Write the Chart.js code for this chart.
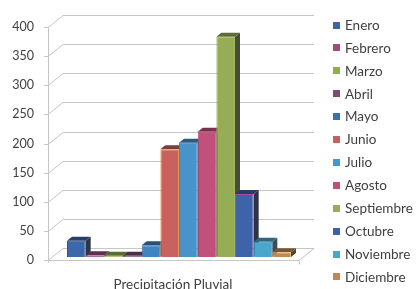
<!DOCTYPE html>
<html><head><meta charset="utf-8">
<script src="https://cdn.jsdelivr.net/npm/chart.js@4/dist/chart.umd.min.js"></script>
<style>html,body{margin:0;padding:0;background:#fff;}#wrap{width:418px;height:289px;position:relative;}</style>
</head><body><div id="wrap"><canvas id="c"></canvas></div>
<script>
const categories = ['Precipitación Pluvial'];
const months = ['Enero','Febrero','Marzo','Abril','Mayo','Junio','Julio','Agosto','Septiembre','Octubre','Noviembre','Diciembre'];
const values = [28, 3, 2, 2, 20, 185, 196, 215, 378, 108, 26, 8];
const yTicks = [0, 50, 100, 150, 200, 250, 300, 350, 400];
const fillColors = ['#3C68AA','#9B4A80','#8AB34A','#7B4A72','#3F85C2','#C9625E','#4893CA','#C1507A','#97AC55','#3D63A8','#4BA6CE','#C08A52'];
const borderColors = ['#2F5590','#C8508A','#9CC060','#8A5080','#3570B0','#E89A50','#3F85BD','#B04A78','#A2B860','#A848A0','#3F96C0','#E8B868'];
const legendColors = ['#3A66A8','#9C4C7E','#8DB04A','#7E4B73','#3A6FB0','#C96060','#3E9AD0','#C24F7A','#98AD55','#3D62A5','#4AA5CF','#C08850'];

function shade(hex, f) {
  const n = parseInt(hex.slice(1), 16);
  const r = (n >> 16) & 255, g = (n >> 8) & 255, b = n & 255;
  const m = v => Math.round(v * f);
  return 'rgb(' + m(r) + ',' + m(g) + ',' + m(b) + ')';
}
function sideShade(hex) {
  const n = parseInt(hex.slice(1), 16);
  const r = (n >> 16) & 255, g = (n >> 8) & 255, b = n & 255;
  const gray = (r + g + b) / 3;
  const m = v => Math.round((v * 0.45 + gray * 0.55) * 0.5);
  return 'rgb(' + m(r) + ',' + m(g) + ',' + m(b) + ')';
}

const DX = 5, DY = 4, WX = 15, WY = 12, OFF = 3;
const FONT = 'Lato, "Open Sans", sans-serif';

const depth3d = {
  id: 'depth3d',
  beforeDatasetsDraw(chart) {
    const ctx = chart.ctx, ys = chart.scales.y, area = chart.chartArea;
    const L = area.left, R = area.right;
    ctx.save();
    ctx.strokeStyle = '#c6c6c6';
    ctx.lineWidth = 1;
    ys.ticks.forEach(t => {
      const py = Math.round(ys.getPixelForValue(t.value) + OFF) + 0.5;
      ctx.beginPath();
      ctx.moveTo(L - 4, py);
      ctx.lineTo(L, py);
      ctx.lineTo(L + WX, py - WY);
      ctx.lineTo(R + 4, py - WY);
      ctx.stroke();
    });
    const yTop = Math.round(ys.getPixelForValue(ys.max) + OFF) + 0.5;
    const yBot = Math.round(ys.getPixelForValue(ys.min) + OFF) + 0.5;
    ctx.beginPath();
    ctx.moveTo(L + 0.5, yTop);
    ctx.lineTo(L + 0.5, yBot + 2);
    ctx.moveTo(L, yBot);
    ctx.lineTo(R - 11, yBot);
    ctx.lineTo(R + 4, yBot - WY);
    ctx.moveTo(R - 11 + 0.5, yBot);
    ctx.lineTo(R - 11 + 0.5, yBot + 4);
    ctx.stroke();

    chart.data.datasets.forEach((ds, i) => {
      const meta = chart.getDatasetMeta(i);
      meta.data.forEach(bar => {
        const p = bar.getProps(['x', 'y', 'base', 'width'], true);
        const l = p.x - p.width / 2, r = p.x + p.width / 2, top = p.y, base = p.base;
        ctx.fillStyle = sideShade(fillColors[i]);
        ctx.beginPath();
        ctx.moveTo(r, top); ctx.lineTo(r + DX, top - DY); ctx.lineTo(r + DX, base - DY); ctx.lineTo(r, base);
        ctx.closePath(); ctx.fill();
        ctx.fillStyle = shade(fillColors[i], 0.62);
        ctx.beginPath();
        ctx.moveTo(l, top); ctx.lineTo(l + DX, top - DY); ctx.lineTo(r + DX, top - DY); ctx.lineTo(r, top);
        ctx.closePath(); ctx.fill();
      });
    });
    ctx.restore();
  }
};

const sideLegend = {
  id: 'sideLegend',
  afterDraw(chart) {
    const ctx = chart.ctx;
    ctx.save();
    ctx.font = '13.5px ' + FONT;
    ctx.textBaseline = 'middle';
    ctx.textAlign = 'left';
    chart.data.datasets.forEach((ds, i) => {
      const cy = 25 + i * 22.9;
      ctx.fillStyle = legendColors[i];
      ctx.fillRect(333, Math.round(cy - 3.5), 7, 7);
      ctx.fillStyle = '#404040';
      ctx.fillText(ds.label, 345, cy + 0.5);
    });
    ctx.restore();
  }
};

new Chart(document.getElementById('c'), {
  type: 'bar',
  data: {
    labels: categories,
    datasets: months.map((m, i) => ({
      label: m,
      data: [values[i]],
      backgroundColor: fillColors[i],
      borderColor: borderColors[i],
      borderWidth: 1,
      barPercentage: 1,
      categoryPercentage: 0.855
    }))
  },
  options: {
    responsive: true,
    maintainAspectRatio: false,
    animation: false,
    layout: { padding: { left: 0, right: 108, top: 24, bottom: 0 } },
    plugins: { legend: { display: false }, tooltip: { enabled: false } },
    scales: {
      x: {
        grid: { display: false, drawTicks: false },
        border: { display: false },
        ticks: { color: '#404040', font: { family: FONT, size: 13.5 }, padding: 20, labelOffset: -6 },
        afterFit(s) { s.height = 32; }
      },
      y: {
        min: 0, max: 400,
        afterBuildTicks(s) { s.ticks = yTicks.map(v => ({ value: v })); },
        grid: { display: false, drawTicks: false },
        border: { display: false },
        ticks: { color: '#404040', font: { family: FONT, size: 12.5 }, padding: 14, labelOffset: 3 },
        afterFit(s) { s.width = 48; }
      }
    }
  },
  plugins: [depth3d, sideLegend]
});
</script>
</body></html>
